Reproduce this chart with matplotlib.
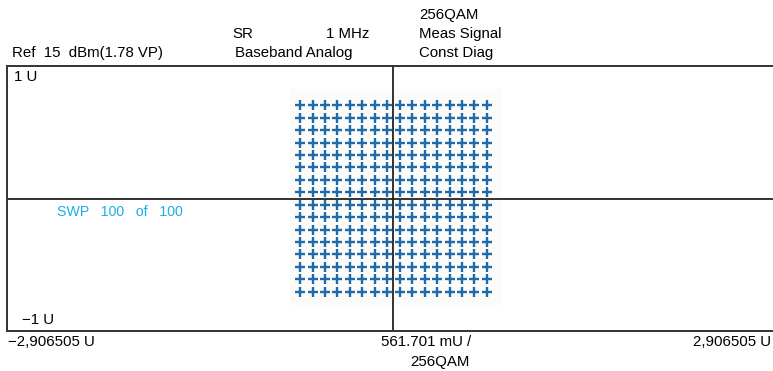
import numpy as np
import matplotlib.pyplot as plt
from matplotlib.patches import Rectangle

plt.rcParams['font.family'] = ['Liberation Sans', 'DejaVu Sans']

# 256QAM constellation levels (I and Q), in U
i_levels = [-0.703, -0.609, -0.516, -0.422, -0.328, -0.234, -0.141, -0.047,
            0.047, 0.141, 0.234, 0.328, 0.422, 0.516, 0.609, 0.703]
q_levels = [-0.703, -0.609, -0.516, -0.422, -0.328, -0.234, -0.141, -0.047,
            0.047, 0.141, 0.234, 0.328, 0.422, 0.516, 0.609, 0.703]

x_span = 2.906505
y_span = 1.0
fs = 10.8

fig = plt.figure(figsize=(7.73, 3.71), dpi=100)
ax = fig.add_axes([7.5 / 773, 40 / 371, 772 / 773, 265 / 371])
ax.set_xlim(-x_span, x_span)
ax.set_ylim(-y_span, y_span)
ax.set_xticks([])
ax.set_yticks([])
for side in ['top', 'left', 'bottom']:
    ax.spines[side].set_linewidth(1.4)
    ax.spines[side].set_color('#333333')
ax.spines['right'].set_visible(False)

# faint haze behind the symbols
ax.add_patch(Rectangle((-0.78, -0.80), 1.59, 1.63, facecolor='#fbfbf9',
                       edgecolor='none', zorder=0))

ax.axvline(0, color='#222222', lw=1.3, zorder=1)
ax.axhline(0, color='#222222', lw=1.3, zorder=1)

I, Q = np.meshgrid(i_levels, q_levels)
ax.plot(I.ravel(), Q.ravel(), linestyle='none', marker='+', markersize=7.2,
        markeredgewidth=1.7, color='#1f6aa8', zorder=2)

ax.text(0.008, 0.985, '1 U', transform=ax.transAxes, fontsize=fs, va='top', ha='left')
ax.text(0.019, 0.015, '\u22121 U', transform=ax.transAxes, fontsize=fs, va='bottom', ha='left')
ax.text(0.064, 0.45, 'SWP   100   of   100', transform=ax.transAxes, fontsize=10.2,
        color='#1aaee6', va='center', ha='left')

# header annotations
fig.text(12 / 773, 1 - 53 / 371, 'Ref  15  dBm(1.78 VP)', fontsize=fs, va='center', ha='left')
fig.text(232 / 773, 1 - 34 / 371, 'SR', fontsize=fs, va='center', ha='left')
fig.text(326 / 773, 1 - 34 / 371, '1 MHz', fontsize=fs, va='center', ha='left')
fig.text(235 / 773, 1 - 53 / 371, 'Baseband Analog', fontsize=fs, va='center', ha='left')
fig.text(419 / 773, 1 - 15 / 371, '256QAM', fontsize=fs, va='center', ha='left')
fig.text(419 / 773, 1 - 34 / 371, 'Meas Signal', fontsize=fs, va='center', ha='left')
fig.text(419 / 773, 1 - 53 / 371, 'Const Diag', fontsize=fs, va='center', ha='left')

# x axis annotations
fig.text(8 / 773, 1 - 342 / 371, '\u22122,906505 U', fontsize=fs, va='center', ha='left')
fig.text(381 / 773, 1 - 342 / 371, '561.701 mU /', fontsize=fs, va='center', ha='left')
fig.text(410 / 773, 1 - 362 / 371, '256QAM', fontsize=fs, va='center', ha='left')
fig.text(771 / 773, 1 - 342 / 371, '2,906505 U', fontsize=fs, va='center', ha='right')

fig.savefig('out.png', dpi=100)
